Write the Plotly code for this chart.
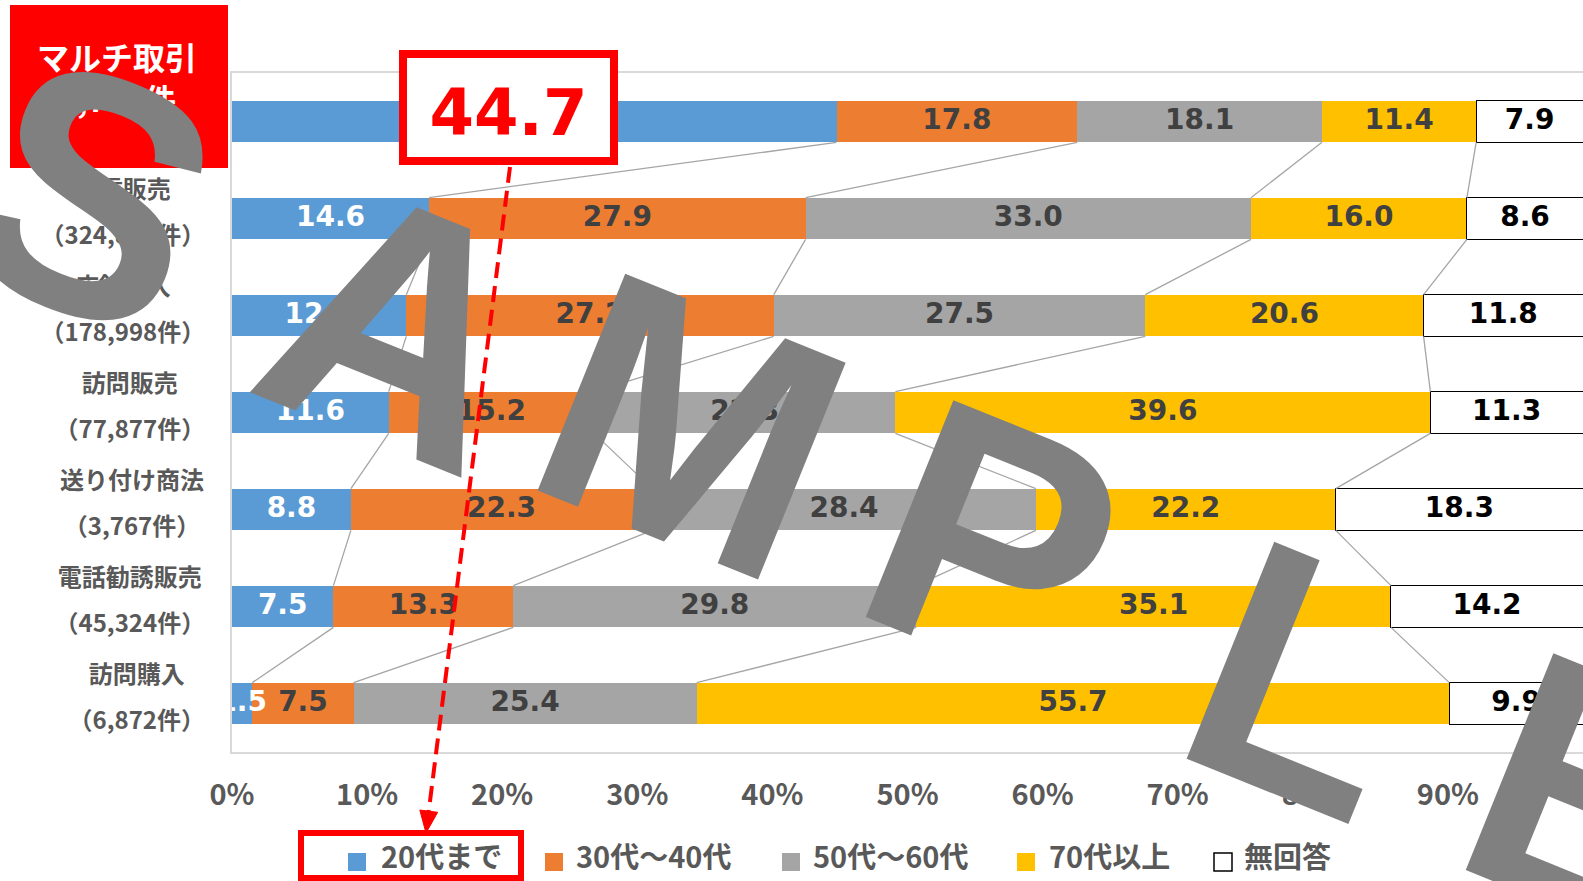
import plotly.graph_objects as go

# ---------------- data ----------------
categories = ["マルチ取引", "通信販売", "店舗購入", "訪問販売", "送り付け商法", "電話勧誘販売", "訪問購入"]
counts = ["7,770件", "（324,881件）", "（178,998件）", "（77,877件）", "（3,767件）", "（45,324件）", "（6,872件）"]
series_names = ["20代まで", "30代～40代", "50代～60代", "70代以上", "無回答"]
age_u20 = [44.7, 14.6, 12.9, 11.6, 8.8, 7.5, 1.5]
age_30_40 = [17.8, 27.9, 27.2, 15.2, 22.3, 13.3, 7.5]
age_50_60 = [18.1, 33.0, 27.5, 22.3, 28.4, 29.8, 25.4]
age_70p = [11.4, 16.0, 20.6, 39.6, 22.2, 35.1, 55.7]
no_answer = [7.9, 8.6, 11.8, 11.3, 18.3, 14.2, 9.9]
tick_vals = [0, 10, 20, 30, 40, 50, 60, 70, 80, 90, 100]
tick_labels = ["0%", "10%", "20%", "30%", "40%", "50%", "60%", "70%", "80%", "90%", "100%"]
watermark = "SAMPLE"

series = [age_u20, age_30_40, age_50_60, age_70p, no_answer]
colors = ["#5B9BD5", "#ED7D31", "#A5A5A5", "#FFC000", "#FFFFFF"]
label_colors = ["#FFFFFF", "#404040", "#404040", "#404040", "#000000"]
highlight = (0, 0)  # (series index, category index) shown in the red callout box

# ---------------- geometry ----------------
W, H = 1583, 881
L, T, R, B = 232, 73, 0, 129
PW, PH = W - L - R, H - T - B
BW = 0.43

def xp(px):
    return (px - L) / PW

def yp(py):
    return (H - B - py) / PH

n = len(categories)
ys = list(range(n))

fig = go.Figure()
for vals, name, col in zip(series, series_names, colors):
    fig.add_trace(go.Bar(
        x=vals, y=ys, orientation="h", name=name, width=BW,
        marker=dict(color=col, line=dict(color="#000000" if col == "#FFFFFF" else col,
                                         width=1 if col == "#FFFFFF" else 0)),
        hoverinfo="skip", showlegend=False,
    ))

# normalized cumulative positions (100% stacked)
sums = [sum(s[i] for s in series) for i in range(n)]
norm = [[s[i] / sums[i] * 100 for i in range(n)] for s in series]
cum = []
acc = [0.0] * n
for s in norm:
    acc = [a + v for a, v in zip(acc, s)]
    cum.append(acc[:])

# series connector lines
for k in range(4):
    xs_, ys_ = [], []
    for i in range(n - 1):
        xs_ += [cum[k][i], cum[k][i + 1], None]
        ys_ += [i + BW / 2, i + 1 - BW / 2, None]
    fig.add_trace(go.Scatter(x=xs_, y=ys_, mode="lines",
                             line=dict(color="#A5A5A5", width=1.3),
                             hoverinfo="skip", showlegend=False))

# data labels
for k, vals in enumerate(series):
    mids = [cum[k][i] - norm[k][i] / 2 for i in range(n)]
    texts = ["" if (k, i) == highlight else f"{v:.1f}" for i, v in enumerate(vals)]
    fig.add_trace(go.Scatter(
        x=mids, y=ys, mode="text", text=texts,
        textfont=dict(family="DejaVu Sans", size=28, color=label_colors[k], weight="bold"),
        hoverinfo="skip", showlegend=False,
    ))

shapes = []
annotations = []

def text_label_shape(cx, cy, text, size, color, family, angle=0, hw=20, hh=10):
    return dict(type="rect", xref="paper", yref="paper",
                x0=xp(cx - hw), x1=xp(cx + hw), y0=yp(cy + hh), y1=yp(cy - hh),
                line=dict(width=0), fillcolor="rgba(0,0,0,0)", layer="above",
                label=dict(text=text, textposition="middle center", textangle=angle,
                           font=dict(size=size, color=color, family=family)))

# red title box (first category)
shapes.append(dict(type="rect", xref="paper", yref="paper",
                   x0=xp(10), x1=xp(228), y0=yp(168), y1=yp(5),
                   line=dict(width=0), fillcolor="#FF0000", layer="above"))
shapes.append(text_label_shape(117, 82, f"<b>{categories[0]}</b><br><b>{counts[0]}</b>",
                               32, "#FFFFFF", "Noto Sans CJK JP"))

# category labels
def text_w(s, f):
    w = 0
    for ch in s:
        if ch.isdigit():
            w += 0.58 * f
        elif ch in ",.":
            w += 0.28 * f
        else:
            w += 1.0 * f
    return w

LF = 24
RIGHT = 204
for i in range(1, n):
    rowc = T + PH / n * (i + 0.5)
    wblk = max(text_w(categories[i], LF), text_w(counts[i], LF))
    cx = RIGHT - wblk / 2
    shapes.append(text_label_shape(cx, rowc - 27, f"<b>{categories[i]}</b>", LF, "#595959", "Noto Sans CJK JP"))
    shapes.append(text_label_shape(cx, rowc + 19, f"<b>{counts[i]}</b>", LF, "#595959", "Noto Sans CJK JP"))

# highlighted value box
hk, hi = highlight
shapes.append(dict(type="rect", xref="paper", yref="paper",
                   x0=xp(403), x1=xp(614), y0=yp(161), y1=yp(54),
                   line=dict(color="#FF0000", width=8), fillcolor="#FFFFFF", layer="above",
                   label=dict(text=f"<b>{series[hk][hi]:.1f}</b>", textposition="middle center",
                              font=dict(size=64, color="#FF0000", family="DejaVu Sans"))))

# watermark letters
wm_pos = [(103, 165), (412, 296), (704, 396), (1006, 512), (1318, 650), (1606, 765)]
for ch, (cx, cy) in zip(watermark, wm_pos):
    shapes.append(text_label_shape(cx, cy, f"<b>{ch}</b>", 340, "#808080", "Liberation Sans", angle=22))

# red dashed arrow to legend
x_start, y_start = 510, 167
x_tip, y_tip = 426, 833
dx, dy = x_tip - x_start, y_tip - y_start
ln = (dx ** 2 + dy ** 2) ** 0.5
ux, uy = dx / ln, dy / ln
bx, by = x_tip - 22 * ux, y_tip - 22 * uy
pxv, pyv = -uy, ux
shapes.append(dict(type="line", xref="paper", yref="paper",
                   x0=xp(x_start), y0=yp(y_start), x1=xp(bx), y1=yp(by),
                   line=dict(color="#FF0000", width=4, dash="16px,8px"), layer="above"))
path = (f"M{xp(x_tip)},{yp(y_tip)} L{xp(bx + 9 * pxv)},{yp(by + 9 * pyv)} "
        f"L{xp(bx - 9 * pxv)},{yp(by - 9 * pyv)} Z")
shapes.append(dict(type="path", xref="paper", yref="paper", path=path,
                   fillcolor="#FF0000", line=dict(color="#FF0000", width=1), layer="above"))

# legend red frame
shapes.append(dict(type="rect", xref="paper", yref="paper",
                   x0=xp(301), x1=xp(521), y0=yp(878), y1=yp(833),
                   line=dict(color="#FF0000", width=6), fillcolor="rgba(0,0,0,0)", layer="above"))

# manual legend
leg_marker_x = [348, 545, 782, 1017, 1214]
leg_text_x = [379, 574, 811, 1047, 1242]
for name, col, mx, tx in zip(series_names, colors, leg_marker_x, leg_text_x):
    shapes.append(dict(type="rect", xref="paper", yref="paper",
                       x0=xp(mx), x1=xp(mx + 18), y0=yp(871), y1=yp(853),
                       fillcolor=col,
                       line=dict(color="#000000" if col == "#FFFFFF" else col,
                                 width=1.5 if col == "#FFFFFF" else 0),
                       layer="above"))
    annotations.append(dict(xref="paper", yref="paper", x=xp(tx), y=yp(855),
                            xanchor="left", yanchor="middle", showarrow=False, text=name,
                            font=dict(family="Noto Sans CJK JP", size=29, color="#595959", weight="bold")))

fig.update_layout(
    width=W, height=H,
    margin=dict(l=L, r=R, t=T, b=B, pad=0),
    paper_bgcolor="#FFFFFF", plot_bgcolor="#FFFFFF",
    barmode="stack", barnorm="percent",
    shapes=shapes, annotations=annotations,
    showlegend=False,
    xaxis=dict(range=[0, 100], tickvals=tick_vals, ticktext=tick_labels,
               showgrid=False, zeroline=False, showline=True, mirror=True,
               linecolor="#D9D9D9", linewidth=2,
               ticks="outside", ticklen=16, tickcolor="rgba(0,0,0,0)",
               tickfont=dict(family="Noto Sans CJK JP", size=29, color="#595959", weight="bold"),
               fixedrange=True),
    yaxis=dict(range=[n - 0.5, -0.5], showticklabels=False, showgrid=False,
               zeroline=False, showline=True, mirror=False,
               linecolor="#D9D9D9", linewidth=2, fixedrange=True),
)

fig.write_html("out.html", post_script="document.body.style.margin='0';",
               config={"displayModeBar": False})
